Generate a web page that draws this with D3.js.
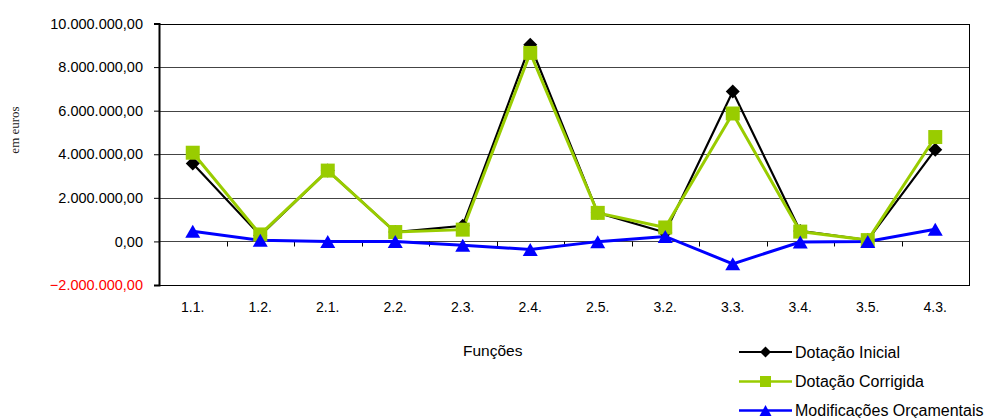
<!DOCTYPE html>
<html>
<head>
<meta charset="utf-8">
<script src="https://cdn.jsdelivr.net/npm/d3@7"></script>
<style>
  html, body { margin: 0; padding: 0; background: #fff; }
  svg { display: block; }
  text { font-family: "Liberation Sans", Arial, sans-serif; }
</style>
</head>
<body>
<svg id="chart" width="987" height="418"></svg>
<script>
// Budget by function (euros)
const categories = ["1.1.", "1.2.", "2.1.", "2.2.", "2.3.", "2.4.", "2.5.", "3.2.", "3.3.", "3.4.", "3.5.", "4.3."];
const dotacaoInicial   = [3580000, 270000, 3250000, 430000, 720000, 9020000, 1310000, 410000, 6880000, 480000, 60000, 4210000];
const dotacaoCorrigida = [4070000, 320000, 3250000, 430000, 540000, 8650000, 1310000, 640000, 5870000, 450000, 60000, 4790000];
const modificacoes     = [470000, 50000, 0, 0, -180000, -370000, -10000, 230000, -1030000, -30000, 0, 560000];
const yTicks = [-2000000, 0, 2000000, 4000000, 6000000, 8000000, 10000000];

// Marker shapes as symbol types sized by width/height in pixels
const diamondShape = (w, h) => ({ draw(ctx) {
  ctx.moveTo(0, -h / 2); ctx.lineTo(w / 2, 0); ctx.lineTo(0, h / 2); ctx.lineTo(-w / 2, 0); ctx.closePath();
}});
const squareShape = (w, h) => ({ draw(ctx) {
  ctx.rect(-w / 2, -h / 2, w, h);
}});
const triangleShape = (w, h) => ({ draw(ctx) {
  ctx.moveTo(0, -h / 2); ctx.lineTo(w / 2, h / 2); ctx.lineTo(-w / 2, h / 2); ctx.closePath();
}});

const series = [
  { name: "Dotação Inicial", values: dotacaoInicial, color: "#000000", width: 2.2,
    shape: diamondShape(14, 14), legendShape: diamondShape(11, 11) },
  { name: "Dotação Corrigida", values: dotacaoCorrigida, color: "#99CC00", width: 3,
    shape: squareShape(14, 14), legendShape: squareShape(11, 11) },
  { name: "Modificações Orçamentais", values: modificacoes, color: "#0000FF", width: 3,
    shape: triangleShape(15, 13), legendShape: triangleShape(12, 11) }
];

const svg = d3.select("#chart");
const plot = { left: 159, right: 969, top: 23.5, bottom: 285 };

const x = d3.scaleBand().domain(categories).range([plot.left, plot.right]);
const y = d3.scaleLinear().domain([-2000000, 10000000]).range([plot.bottom, plot.top]);

// Portuguese number format: 10.000.000,00
const ptLocale = d3.formatLocale({ decimal: ",", thousands: ".", grouping: [3], currency: ["", " €"] });
const fmt = ptLocale.format(",.2f");

// Horizontal gridlines
svg.append("g")
  .selectAll("line")
  .data(yTicks.filter(v => v !== -2000000 && v !== 10000000))
  .join("line")
  .attr("x1", plot.left).attr("x2", plot.right)
  .attr("y1", d => Math.round(y(d)) + 0.5).attr("y2", d => Math.round(y(d)) + 0.5)
  .attr("stroke", "#444").attr("stroke-width", 1);

// Plot frame
svg.append("rect")
  .attr("x", plot.left + 0.5).attr("y", Math.round(plot.top) + 0.5)
  .attr("width", plot.right - plot.left).attr("height", Math.round(plot.bottom) - Math.round(plot.top))
  .attr("fill", "none").attr("stroke", "#000").attr("stroke-width", 1);

// Y axis
const yAxis = d3.axisLeft(y).tickValues(yTicks).tickFormat(fmt).tickSize(5).tickPadding(11);
const gy = svg.append("g").attr("transform", `translate(${plot.left},0)`).call(yAxis);
gy.select(".domain").attr("stroke", "#000").attr("stroke-width", 2);
gy.selectAll(".tick line").attr("stroke", "#000");
gy.selectAll(".tick text")
  .style("font-family", "'Liberation Sans', Arial, sans-serif")
  .style("font-size", "14.5px")
  .style("fill", d => d < 0 ? "#FF0000" : "#000");

// X axis ticks along the zero line, labels below the plot
const zeroY = Math.round(y(0)) + 0.5;
const bounds = categories.map(c => x(c)).slice(1);
svg.append("g").selectAll("line")
  .data(bounds)
  .join("line")
  .attr("x1", d => Math.round(d) + 0.5).attr("x2", d => Math.round(d) + 0.5)
  .attr("y1", zeroY).attr("y2", zeroY + 5)
  .attr("stroke", "#000");

svg.append("g").selectAll("text")
  .data(categories)
  .join("text")
  .attr("x", d => x(d) + x.bandwidth() / 2)
  .attr("y", 311.5)
  .attr("text-anchor", "middle")
  .style("font-size", "14px")
  .style("fill", "#000")
  .text(d => d);

// Y axis title
svg.append("text")
  .attr("transform", "translate(19,130) rotate(-90)")
  .attr("text-anchor", "middle")
  .style("font-family", "'Liberation Serif', 'Times New Roman', serif")
  .style("font-size", "13px")
  .style("fill", "#222")
  .text("em euros");

// X axis title
svg.append("text")
  .attr("x", 463).attr("y", 356)
  .style("font-size", "15.5px")
  .style("fill", "#000")
  .text("Funções");

// Series lines
const line = d3.line()
  .x((d, i) => x(categories[i]) + x.bandwidth() / 2)
  .y(d => y(d));

series.forEach(s => {
  svg.append("path")
    .datum(s.values)
    .attr("d", line)
    .attr("fill", "none")
    .attr("stroke", s.color)
    .attr("stroke-width", s.width)
    .attr("stroke-linejoin", "miter");
});

// Series markers
series.forEach(s => {
  const sym = d3.symbol().type(s.shape);
  svg.append("g").selectAll("path")
    .data(s.values)
    .join("path")
    .attr("transform", (d, i) => `translate(${x(categories[i]) + x.bandwidth() / 2},${y(d)})`)
    .attr("d", sym)
    .attr("fill", s.color);
});

// Legend
const legend = svg.append("g");
const legendRows = [352, 381.5, 410.5];
series.forEach((s, i) => {
  const ly = legendRows[i];
  legend.append("line")
    .attr("x1", 739).attr("x2", 792)
    .attr("y1", ly).attr("y2", ly)
    .attr("stroke", s.color).attr("stroke-width", s.width >= 3 ? 2.5 : 2);
  legend.append("path")
    .attr("transform", `translate(765.5,${ly})`)
    .attr("d", d3.symbol().type(s.legendShape))
    .attr("fill", s.color);
  legend.append("text")
    .attr("x", 795).attr("y", ly + 5.5)
    .style("font-size", "16px")
    .style("fill", "#000")
    .text(s.name);
});
</script>
</body>
</html>
